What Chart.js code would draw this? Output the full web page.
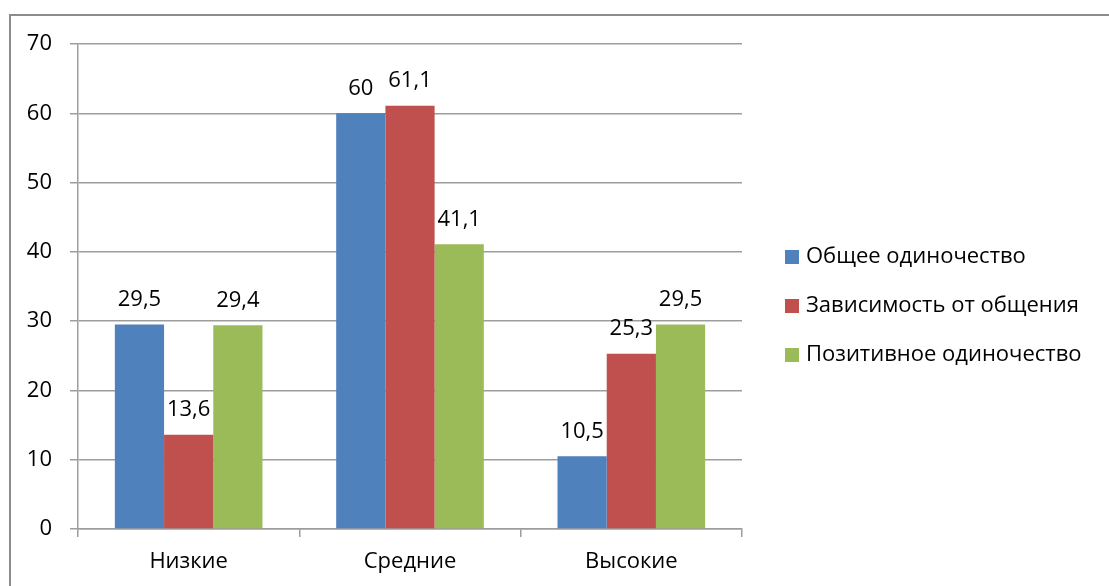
<!DOCTYPE html>
<html>
<head>
<meta charset="utf-8">
<script src="https://cdn.jsdelivr.net/npm/chart.js@4.4.0/dist/chart.umd.min.js"></script>
<style>
  html, body { margin: 0; padding: 0; background: #fff; }
  #wrap { position: relative; width: 1109px; height: 586px; overflow: hidden; }
  #frame { position: absolute; left: 9px; top: 14px; width: 1300px; height: 800px;
           border-left: 2px solid #8c8c8c; border-top: 2px solid #8c8c8c; }
  canvas { position: absolute; left: 0; top: 0; }
</style>
</head>
<body>
<div id="wrap">
  <div id="frame"></div>
  <canvas id="chart" width="1109" height="586"></canvas>
</div>
<script>
// Categories and series
const categories = ['Низкие', 'Средние', 'Высокие'];
const seriesNames = ['Общее одиночество', 'Зависимость от общения', 'Позитивное одиночество'];
const generalLoneliness = [29.5, 60, 10.5];
const communicationDependence = [13.6, 61.1, 25.3];
const positiveLoneliness = [29.4, 41.1, 29.5];
const yTickValues = [0, 10, 20, 30, 40, 50, 60, 70];

const seriesColors = ['#4f81bd', '#c0504d', '#9bbb59'];
const FONT = 'Open Sans';
const FONT_SIZE = 22;
const gridColor = '#9d9d9d';

const fmt = v => String(v).replace('.', ',');

// Value labels above each bar
const valueLabels = {
  id: 'valueLabels',
  afterDatasetsDraw(chart) {
    const ctx = chart.ctx;
    ctx.save();
    ctx.font = FONT_SIZE + 'px "' + FONT + '"';
    ctx.fillStyle = '#000';
    ctx.textAlign = 'center';
    ctx.textBaseline = 'bottom';
    chart.data.datasets.forEach((ds, i) => {
      chart.getDatasetMeta(i).data.forEach((bar, j) => {
        ctx.fillText(fmt(ds.data[j]), bar.x, bar.y - 14);
      });
    });
    ctx.restore();
  }
};

// Legend to the right of the plot
const sideLegend = {
  id: 'sideLegend',
  afterDraw(chart) {
    const ctx = chart.ctx;
    const x0 = chart.chartArea.right + 43;
    const rowH = 49;
    const n = chart.data.datasets.length;
    const yc = 306;
    ctx.save();
    ctx.font = FONT_SIZE + 'px "' + FONT + '"';
    ctx.textBaseline = 'middle';
    ctx.textAlign = 'left';
    chart.data.datasets.forEach((ds, i) => {
      const y = yc + (i - (n - 1) / 2) * rowH;
      ctx.fillStyle = ds.backgroundColor;
      ctx.fillRect(x0, y - 7, 14, 14);
      ctx.fillStyle = '#000';
      ctx.fillText(ds.label, x0 + 21, y);
    });
    ctx.restore();
  }
};

const seriesData = [generalLoneliness, communicationDependence, positiveLoneliness];

new Chart(document.getElementById('chart'), {
  type: 'bar',
  data: {
    labels: categories,
    datasets: seriesData.map((d, i) => ({
      label: seriesNames[i],
      data: d,
      backgroundColor: seriesColors[i],
      borderWidth: 0,
      categoryPercentage: 0.667,
      barPercentage: 1.0
    }))
  },
  options: {
    responsive: false,
    animation: false,
    devicePixelRatio: 1,
    layout: { padding: { left: 0, top: 44, right: 367, bottom: 0 } },
    plugins: { legend: { display: false }, tooltip: { enabled: false } },
    scales: {
      x: {
        grid: { offset: true, drawOnChartArea: false, drawTicks: true, tickLength: 8, color: gridColor, lineWidth: 1.5 },
        border: { display: true, color: gridColor, width: 1.5 },
        ticks: { color: '#000', font: { family: FONT, size: FONT_SIZE }, padding: 12 },
        afterFit(scale) { scale.height = 57; }
      },
      y: {
        min: 0, max: 70,
        afterBuildTicks(scale) { scale.ticks = yTickValues.map(v => ({ value: v })); },
        grid: { color: gridColor, tickLength: 8, lineWidth: 1.5 },
        border: { display: true, color: gridColor, width: 1.5 },
        ticks: { color: '#000', font: { family: FONT, size: FONT_SIZE }, padding: 18 },
        afterFit(scale) { scale.width = 78; }
      }
    }
  },
  plugins: [valueLabels, sideLegend]
});
</script>
</body>
</html>
